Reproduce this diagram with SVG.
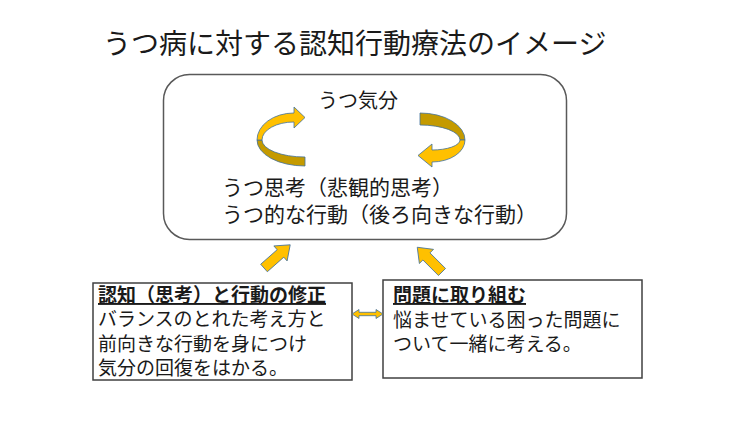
<svg xmlns="http://www.w3.org/2000/svg" width="750" height="432" viewBox="0 0 750 432">
<style>
text{font-family:"Noto Sans CJK JP","Noto Sans CJK SC",sans-serif;fill:#1a1a1a}
.arrow{fill:#FFC000;stroke:#41719C;stroke-width:0.8;stroke-linejoin:miter}
.dark{fill:#C49A00;stroke:#41719C;stroke-width:0.8}
.box{fill:#fff;stroke:#404040;stroke-width:1.5}
.b{font-weight:bold;text-decoration:underline}
</style>
<rect width="750" height="432" fill="#fff"/>
<text id="title" x="103" y="54" font-size="28">うつ病に対する認知行動療法のイメージ</text>
<g id="main">
<rect x="163.5" y="74.5" width="403" height="165" rx="26" fill="#fff" stroke="#595959" stroke-width="1.5"/>
<text x="318" y="108" font-size="20">うつ気分</text>
<text x="222" y="195" font-size="21">うつ思考（悲観的思考）</text>
<text x="222" y="222" font-size="21">うつ的な行動（後ろ向きな行動）</text>
</g>
<g id="cycle-left">
<path class="dark" d="M257,140 A48,26 0 0 0 305,166 L305,157 A43,17 0 0 1 262,140 Z"/>
<path class="arrow" d="M257,140 A37,27 0 0 1 294,113 L294,107 L305,117.5 L294,128 L294,122 A32,18 0 0 0 262,140 Z"/>
</g>
<g id="cycle-right">
<path class="dark" d="M420,113 A45,27 0 0 1 465,140 L460,140 A40,15 0 0 0 420,125 Z"/>
<path class="arrow" d="M465,140 A33,22 0 0 1 432,162 L432,167 L418,155.5 L432,144 L432,150 A28,10 0 0 0 460,140 Z"/>
</g>
<g id="box-left">
<rect class="box" x="93" y="283" width="259" height="97"/>
<text class="b" x="98" y="302" font-size="19">認知（思考）と行動の修正</text>
<text x="98" y="326" font-size="19">バランスのとれた考え方と</text>
<text x="98" y="351" font-size="19">前向きな行動を身につけ</text>
<text x="98" y="375" font-size="19">気分の回復をはかる。</text>
</g>
<g id="box-right">
<rect class="box" x="383" y="280" width="259" height="98"/>
<text class="b" x="393" y="302" font-size="19">問題に取り組む</text>
<text x="393" y="327" font-size="19">悩ませている困った問題に</text>
<text x="393" y="351" font-size="19">ついて一緒に考える。</text>
</g>
<g id="connectors">
<path class="arrow" transform="translate(264,268) rotate(-41.5)" d="M0,-5 L22,-5 L22,-10 L35,0 L22,10 L22,5 L0,5 Z"/>
<path class="arrow" transform="translate(442,272) rotate(-135)" d="M0,-5 L22,-5 L22,-10 L35,0 L22,10 L22,5 L0,5 Z"/>
<path class="arrow" d="M352,314 L359,309.5 L359,312.3 L376,312.3 L376,309.5 L383,314 L376,318.5 L376,315.7 L359,315.7 L359,318.5 Z"/>
</g>
</svg>
